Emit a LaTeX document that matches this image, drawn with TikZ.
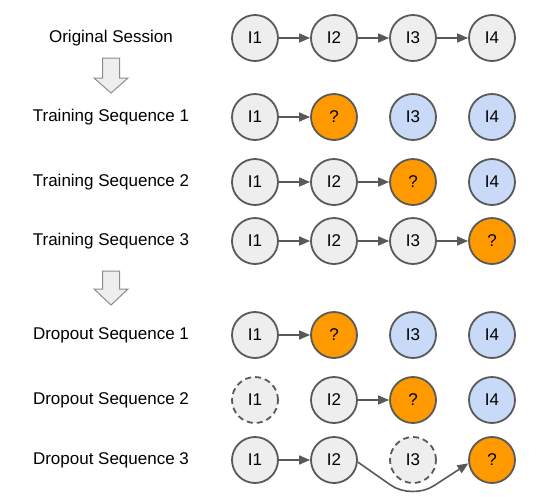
\documentclass[tikz,border=0pt]{standalone}
\usepackage{fontspec}
\setmainfont{Liberation Sans}
\usetikzlibrary{arrows.meta}
\definecolor{cgray}{HTML}{EEEEEE}
\definecolor{cline}{HTML}{595959}
\definecolor{corange}{HTML}{FF9900}
\definecolor{cblue}{HTML}{C9DAF8}
\definecolor{barrow}{HTML}{8C8C8C}
\tikzset{
  item/.style={circle, draw=cline, line width=1.8pt, minimum size=46pt, inner sep=0pt, fill=cgray, font=\fontsize{17}{20}\selectfont},
  target/.style={item, fill=corange},
  future/.style={item, fill=cblue},
  dropped/.style={item, dash pattern=on 6pt off 4pt},
  lbl/.style={font=\fontsize{17}{20}\selectfont, anchor=center},
  arr/.style={draw=cline, line width=1.6pt, -{Triangle[length=11pt,width=9pt]}},
  blockarrow/.style={draw=barrow, line width=1pt, fill=cgray, line join=miter}
}
\begin{document}
\begin{tikzpicture}[x=1pt,y=-1pt]
\useasboundingbox (0,0) rectangle (538,496);
% labels
\node[lbl] (l1) at (111,38) {Original Session};
\node[lbl] (l2) at (111,117) {Training Sequence 1};
\node[lbl] (l3) at (111,182) {Training Sequence 2};
\node[lbl] (l4) at (111,241) {Training Sequence 3};
\node[lbl] (l5) at (111,335) {Dropout Sequence 1};
\node[lbl] (l6) at (111,400) {Dropout Sequence 2};
\node[lbl] (l7) at (111,460) {Dropout Sequence 3};
% block arrows
\draw[blockarrow] (102.5,58) -- (119.5,58) -- (119.5,78) -- (128,78) -- (111,93) -- (94,78) -- (102.5,78) -- cycle;
\draw[blockarrow] (102.5,271) -- (119.5,271) -- (119.5,289) -- (128,289) -- (111,305) -- (94,289) -- (102.5,289) -- cycle;
% row 1
\node[item] (a1) at (255,38) {I1};
\node[item] (a2) at (334,38) {I2};
\node[item] (a3) at (413,38) {I3};
\node[item] (a4) at (492,38) {I4};
\draw[arr] (a1) -- (a2);
\draw[arr] (a2) -- (a3);
\draw[arr] (a3) -- (a4);
% row 2
\node[item] (b1) at (255,117) {I1};
\node[target] (b2) at (334,117) {?};
\node[future] (b3) at (413,117) {I3};
\node[future] (b4) at (492,117) {I4};
\draw[arr] (b1) -- (b2);
% row 3
\node[item] (c1) at (255,182) {I1};
\node[item] (c2) at (334,182) {I2};
\node[target] (c3) at (413,182) {?};
\node[future] (c4) at (492,182) {I4};
\draw[arr] (c1) -- (c2);
\draw[arr] (c2) -- (c3);
% row 4
\node[item] (d1) at (255,241) {I1};
\node[item] (d2) at (334,241) {I2};
\node[item] (d3) at (413,241) {I3};
\node[target] (d4) at (492,241) {?};
\draw[arr] (d1) -- (d2);
\draw[arr] (d2) -- (d3);
\draw[arr] (d3) -- (d4);
% row 5
\node[item] (e1) at (255,335) {I1};
\node[target] (e2) at (334,335) {?};
\node[future] (e3) at (413,335) {I3};
\node[future] (e4) at (492,335) {I4};
\draw[arr] (e1) -- (e2);
% row 6
\node[dropped] (f1) at (255,400) {I1};
\node[item] (f2) at (334,400) {I2};
\node[target] (f3) at (413,400) {?};
\node[future] (f4) at (492,400) {I4};
\draw[arr] (f2) -- (f3);
% row 7
\node[item] (g1) at (255,460) {I1};
\node[item] (g2) at (334,460) {I2};
\node[dropped] (g3) at (413,460) {I3};
\node[target] (g4) at (492,460) {?};
\coordinate (gdip) at (412,500);
\draw[arr] (g1) -- (g2);
\draw[arr, rounded corners=26pt] (g2.-5) -- (gdip) -- (g4.188);
\end{tikzpicture}
\end{document}
